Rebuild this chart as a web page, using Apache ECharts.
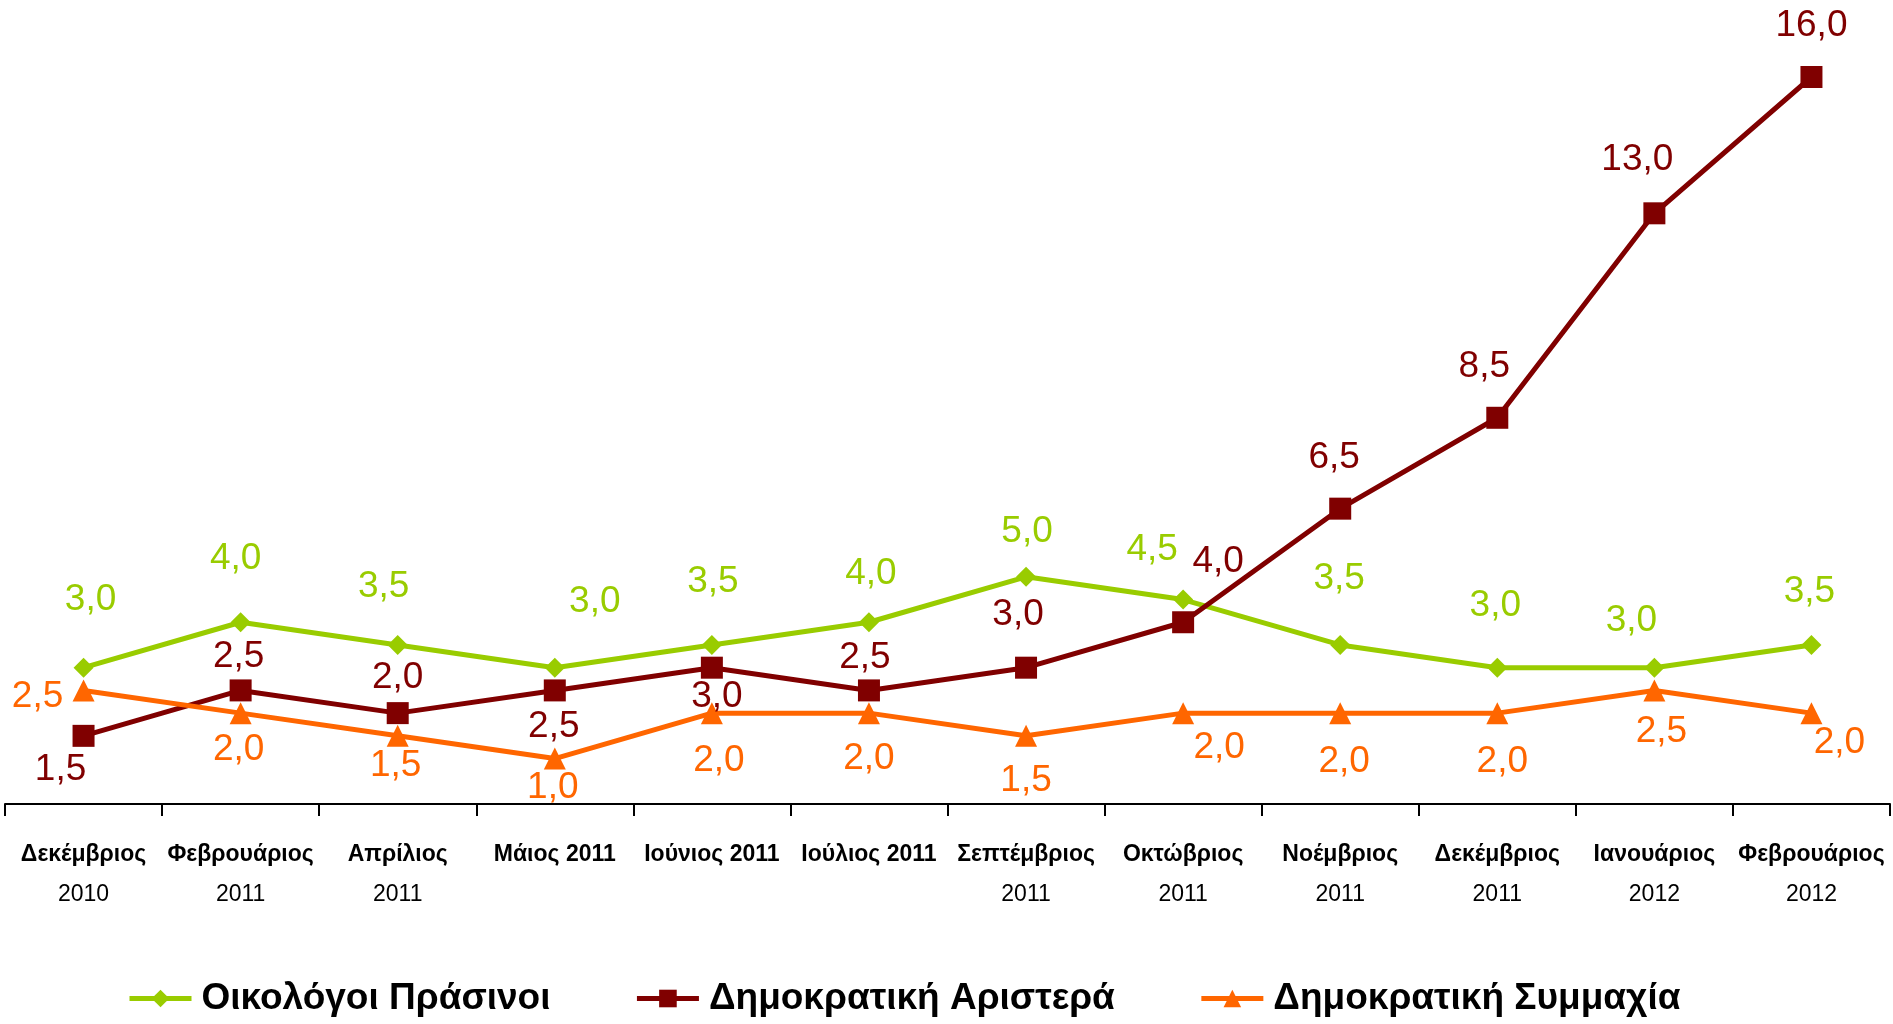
<!DOCTYPE html>
<html lang="el">
<head>
    <meta charset="UTF-8">
    <title>Chart</title>
    <script src="https://cdn.jsdelivr.net/npm/echarts@6/dist/echarts.min.js"></script>
    <style>
        html, body { margin: 0; padding: 0; background: #fff; }
    </style>
</head>
<body>
    <div id="main" style="width: 1893px;height: 1024px;"></div>
    <script>
        var months = [
            'Δεκέμβριος\n2010', 'Φεβρουάριος\n2011', 'Απρίλιος\n2011', 'Μάιος 2011',
            'Ιούνιος 2011', 'Ιούλιος 2011', 'Σεπτέμβριος\n2011', 'Οκτώβριος\n2011',
            'Νοέμβριος\n2011', 'Δεκέμβριος\n2011', 'Ιανουάριος\n2012', 'Φεβρουάριος\n2012'
        ];
        var greens = [3.0, 4.0, 3.5, 3.0, 3.5, 4.0, 5.0, 4.5, 3.5, 3.0, 3.0, 3.5];
        var demLeft = [1.5, 2.5, 2.0, 2.5, 3.0, 2.5, 3.0, 4.0, 6.5, 8.5, 13.0, 16.0];
        var demAlliance = [2.5, 2.0, 1.5, 1.0, 2.0, 2.0, 1.5, 2.0, 2.0, 2.0, 2.5, 2.0];
        var names = ['Οικολόγοι Πράσινοι', 'Δημοκρατική Αριστερά', 'Δημοκρατική Συμμαχία'];

        // label offsets (px) from each point, copied by eye
        var offGreen = [[7,-68],[-5,-63],[-14,-58],[40,-66],[1,-63],[2,-48],[1,-45],[-31,-50],[-1,-66],[-2,-62],[-23,-47],[-2,-53]];
        var offRed = [[-23,34],[-2,-34],[0,-35],[-1,36],[5,29],[-4,-33],[-8,-53],[35,-60],[-6,-51],[-13,-51],[-17,-54],[0,-51]];
        var offOrange = [[-46,6],[-2,37],[-2,30],[-2,29],[7,48],[0,46],[0,45],[36,35],[4,49],[5,49],[7,41],[28,30]];

        var FONT = '"Liberation Sans", Arial, sans-serif';

        function fmt(v) { return v.toFixed(1).replace('.', ','); }

        function build(values, offs) {
            return values.map(function (v, i) {
                return {
                    value: v,
                    label: { offset: offs[i] }
                };
            });
        }

        function makeSeries(name, values, offs, color, symbol, size) {
            return {
                name: name,
                type: 'line',
                data: build(values, offs),
                symbol: symbol,
                symbolSize: size,
                lineStyle: { color: color, width: 5 },
                itemStyle: { color: color },
                label: {
                    show: true,
                    position: 'inside',
                    color: color,
                    fontFamily: FONT,
                    fontSize: 37,
                    formatter: function (p) { return fmt(p.value); }
                },
                animation: false
            };
        }

        var myChart = echarts.init(document.getElementById('main'));

        var option = {
            backgroundColor: '#fff',
            grid: { left: 5, right: 3, top: 77, bottom: 220 },
            legend: {
                left: 122,
                bottom: 2,
                itemWidth: 62,
                itemHeight: 22,
                itemGap: 84,
                lineStyle: { width: 5 },
                textStyle: { fontFamily: FONT, fontWeight: 'bold', fontSize: 37, color: '#000', padding: [0, 0, 0, 5] },
                data: names
            },
            xAxis: {
                type: 'category',
                data: months,
                boundaryGap: true,
                axisLine: { lineStyle: { color: '#000', width: 2 } },
                axisTick: { show: true, length: 12, lineStyle: { color: '#000', width: 2 } },
                axisLabel: {
                    interval: 0,
                    margin: 31,
                    formatter: function (v) {
                        var parts = v.split('\n');
                        var s = '{m|' + parts[0] + '}';
                        if (parts[1]) s += '\n{y|' + parts[1] + '}';
                        return s;
                    },
                    rich: {
                        m: { fontFamily: FONT, fontWeight: 'bold', fontSize: 23, color: '#000', lineHeight: 40 },
                        y: { fontFamily: FONT, fontSize: 23, color: '#000', lineHeight: 40 }
                    }
                }
            },
            yAxis: {
                type: 'value',
                min: 0,
                max: 16,
                show: false,
                splitLine: { show: false }
            },
            series: [
                makeSeries(names[0], greens, offGreen, '#99CC00', 'diamond', 20),
                makeSeries(names[1], demLeft, offRed, '#800000', 'rect', 22),
                makeSeries(names[2], demAlliance, offOrange, '#FF6600', 'triangle', 22)
            ]
        };

        myChart.setOption(option);
    </script>
</body>
</html>
